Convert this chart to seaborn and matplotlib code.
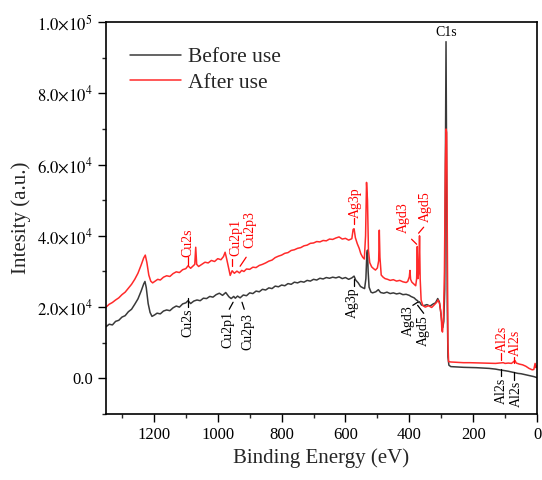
import numpy as np
import pandas as pd
import matplotlib
matplotlib.use("Agg")
import matplotlib.pyplot as plt
import seaborn as sns
from matplotlib.ticker import MultipleLocator, FixedLocator, FuncFormatter

# Binding energy (eV) and intensity
energia_antes = [
    1350, 1340, 1330, 1320, 1310, 1300, 1290, 1280, 1270, 1260, 1250, 1240, 1232, 1228, 1224,
    1218, 1212, 1206, 1198, 1190, 1180, 1170, 1160, 1150, 1140, 1130, 1120, 1110, 1100, 1093,
    1085, 1075, 1065, 1055, 1045, 1035, 1025, 1015, 1005, 995, 985, 975, 965, 958, 950, 945,
    938, 930, 920, 910, 900, 890, 880, 870, 860, 850, 840, 830, 820, 810, 800, 790, 780, 770,
    760, 750, 740, 730, 720, 710, 700, 690, 680, 670, 660, 650, 640, 630, 620, 610, 600, 590,
    580, 573, 568, 560, 553, 545, 540, 536, 533, 531, 529, 526, 520, 515, 505, 497, 490, 480,
    470, 460, 450, 440, 430, 420, 410, 400, 395, 385, 378, 374, 371, 368, 362, 355, 345, 335,
    325, 318, 311, 306, 302, 298, 295, 292, 289, 287, 285, 283, 281, 279, 276, 270, 250, 230,
    210, 190, 170, 150, 130, 118, 110, 100, 90, 80, 70, 60, 50, 40, 30, 20, 10, 0,
]
intensidad_antes = [
    14500, 15200, 15000, 16000, 16300, 17200, 17600, 18700, 19400, 20800, 22300, 24500, 26500, 27200, 25500,
    21000, 18500, 17400, 17800, 18300, 18100, 18900, 19200, 19000, 19800, 20300, 20000, 20900, 21200, 21800,
    21000, 21700, 22000, 21800, 22500, 22400, 23000, 22800, 23500, 23900, 23300, 24100, 22900, 22400, 23000, 22500,
    23100, 22600, 23400, 23200, 24000, 23800, 24500, 24300, 25000, 24800, 25400, 25200, 25900, 25700, 26200, 26000, 26600, 26400,
    27000, 26800, 27200, 27000, 27500, 27300, 27800, 27600, 28100, 27900, 28300, 28100, 28400, 28200, 28500, 28000, 28300, 27800,
    28200, 28700, 27600, 26800, 25800, 25400, 25200, 28000, 35000, 36000, 30000, 25600, 24200, 24000, 24300, 24900, 24100, 23900,
    24200, 23800, 24000, 23700, 23900, 23500, 23600, 23300, 23000, 22600, 22000, 21800, 21300, 21500, 20600, 20400, 20700, 20300,
    20900, 21200, 22400, 21500, 19000, 15500, 14300, 16000, 25000, 60000, 94500, 60000, 20000, 6000, 3700, 3300, 3200, 3100,
    3050, 3000, 2900, 2800, 2600, 2400, 2300, 2150, 2000, 1800, 1600, 1400, 1300, 1100, 900, 700, 500, 200,
]

energia_despues = [
    1350, 1340, 1330, 1320, 1310, 1300, 1290, 1280, 1270, 1260, 1250, 1240, 1232, 1227, 1222,
    1216, 1210, 1204, 1196, 1188, 1180, 1170, 1160, 1150, 1140, 1130, 1120, 1110, 1100, 1093,
    1085, 1078, 1072, 1069, 1066, 1060, 1050, 1040, 1030, 1020, 1010, 1000, 990, 982, 977, 972,
    966, 961, 955, 948, 940, 932, 925, 918, 910, 900, 890, 880, 870, 860, 850, 840, 830, 820,
    810, 800, 790, 780, 770, 760, 750, 740, 730, 720, 710, 700, 690, 680, 670, 660, 650, 640,
    630, 620, 610, 600, 590, 580, 576, 573, 569, 563, 557, 552, 546, 541, 537, 534, 531, 528,
    524, 518, 512, 506, 500, 496, 494, 492, 488, 482, 476, 468, 460, 450, 440, 430, 420, 410,
    405, 400, 398, 396, 392, 386, 380, 377, 375, 373, 370, 368, 366, 363, 358, 350, 340, 330,
    320, 313, 310, 305, 300, 298, 296, 293, 290, 287, 285, 283, 281, 279, 277, 270, 250, 230,
    210, 190, 170, 150, 130, 118, 106, 100, 90, 80, 69, 65, 55, 45, 35, 25, 15, 10, 6, 3, 0,
]
intensidad_despues = [
    20000, 20800, 21300, 22000, 22600, 23500, 24200, 25300, 26400, 27800, 29500, 31800, 33800, 34600, 32500,
    29000, 27300, 26800, 27300, 27800, 27600, 28400, 28800, 28600, 29400, 29900, 29700, 30500, 30800, 31600,
    30900, 31500, 32000, 36800, 32000, 31400, 32000, 32600, 32400, 33100, 32800, 33600, 33300, 34200, 35400, 33500,
    31000, 28900, 30200, 29500, 30100, 29600, 30300, 30000, 30700, 30600, 31200, 31100, 31700, 32000, 32400, 32900, 33200, 33900,
    34300, 34600, 35100, 35300, 35900, 36100, 36500, 36700, 37200, 37400, 37900, 38000, 38400, 38300, 38700, 38600, 39100, 39000,
    39400, 39700, 39100, 39300, 38800, 39200, 41800, 42000, 39500, 37800, 36500, 35000, 34000, 33500, 40000, 55000, 50000, 36000,
    32500, 31300, 30800, 30400, 31000, 33000, 41600, 34000, 29000, 28400, 28000, 27800, 27500, 27700, 27300, 27500, 27100, 26900,
    27200, 28500, 30300, 27800, 27000, 26500, 26000, 28000, 37000, 28000, 30000, 40000, 28000, 22000, 20500, 20000, 20400, 19900,
    20800, 21500, 22000, 21000, 17500, 13500, 13000, 17000, 30000, 60000, 70000, 69000, 40000, 10000, 4700, 4600, 4500, 4400,
    4400, 4350, 4300, 4250, 4200, 4300, 4400, 4200, 4300, 4200, 5000, 4300, 4000, 3800, 3400, 2800, 2400, 2500, 4200, 3000, 3500,
]

etiquetas_y = [0, 20000, 40000, 60000, 80000, 100000]

df = pd.concat([
    pd.DataFrame({"energia": energia_antes, "intensidad": intensidad_antes, "muestra": "Before use"}),
    pd.DataFrame({"energia": energia_despues, "intensidad": intensidad_despues, "muestra": "After use"}),
])

sns.set_style("ticks")
plt.rcParams["font.family"] = ["Liberation Serif", "DejaVu Serif"]
plt.rcParams["mathtext.fontset"] = "stix"

fig = plt.figure(figsize=(5.42, 4.8), dpi=100)
ax = fig.add_axes([0.1956, 0.1375, 0.7952, 0.8165])

sns.lineplot(data=df, x="energia", y="intensidad", hue="muestra", sort=False, estimator=None,
             palette={"Before use": "#3a3a3a", "After use": "#ff2a2a"}, linewidth=1.1, ax=ax)

ax.set_xlim(1350, 0)
ax.set_ylim(-10000, 100000)
ax.xaxis.set_major_locator(MultipleLocator(200))
ax.xaxis.set_minor_locator(MultipleLocator(100))
ax.yaxis.set_major_locator(FixedLocator(etiquetas_y))
ax.yaxis.set_minor_locator(MultipleLocator(10000))


def formato_y(v, pos):
    if v == 0:
        return "0.0"
    exp = int(np.floor(np.log10(abs(v))))
    return r"$%.1f{\times}10^{%d}$" % (v / 10 ** exp, exp)


ax.yaxis.set_major_formatter(FuncFormatter(formato_y))
ax.tick_params(which="major", direction="out", length=6, width=1, labelsize=12, colors="black")
ax.tick_params(which="minor", direction="out", length=3, width=1)
for s in ax.spines.values():
    s.set_linewidth(1.2)
    s.set_color("black")

ax.set_xlabel("Binding Energy (eV)", fontsize=15)
ax.set_ylabel("Intesity (a.u.)", fontsize=15)

ax.legend(loc="upper left", bbox_to_anchor=(0.01, 0.985), frameon=False, fontsize=15.5,
          handlelength=2.4, handletextpad=0.3, labelspacing=0.25)

# etiquetas de picos: (texto, x_texto, y_texto, linea x0, y0, x1, y1)
rojo = "#ff0000"
anot_despues = [
    ("Cu2s", 1093, 34000, 1093, 31750, 1093, 34000),
    ("Cu2p1", 942, 34300, 955, 31470, 955, 33440),
    ("Cu2p3", 898, 36500, 930, 31470, 911, 34000),
    ("Ag3p", 568, 45000, 572, 43270, 572, 45000),
    ("Agd3", 418, 40700, 377, 37650, 393, 39060),
    ("Agd5", 349, 43800, 371, 40745, 355, 42430),
    ("Al2s", 110, 7300, 113, 5060, 113, 7025),
    ("Al2s", 69, 6200, 72, 4215, 72, 5900),
]
for txt, tx, ty, x0, y0, x1, y1 in anot_despues:
    ax.text(tx, ty, txt, color=rojo, rotation=90, ha="center", va="bottom", fontsize=10)
    ax.plot([x0, x1], [y0, y1], color=rojo, lw=0.9)

anot_antes = [
    ("Cu2s", 1093, 19700, 1093, 22480, 1093, 19950),
    ("Cu2p1", 968, 18800, 952, 21360, 964, 19390),
    ("Cu2p3", 905, 18300, 924, 21360, 917, 19390),
    ("Ag3p", 578, 25600, 572, 27820, 572, 25850),
    ("Agd3", 402, 20500, 374, 21360, 389, 20510),
    ("Agd5", 355, 17700, 374, 20510, 355, 18265),
    ("Al2s", 113, 300, 113, 2530, 113, 560),
    ("Al2s", 66, -600, 72, 1690, 72, -560),
]
for txt, tx, ty, x0, y0, x1, y1 in anot_antes:
    ax.text(tx, ty, txt, color="black", rotation=90, ha="center", va="top", fontsize=10)
    ax.plot([x0, x1], [y0, y1], color="black", lw=0.9)

ax.text(283, 97000, "C1s", color="black", ha="center", va="center", fontsize=10)

plt.savefig("out.png", dpi=100)
